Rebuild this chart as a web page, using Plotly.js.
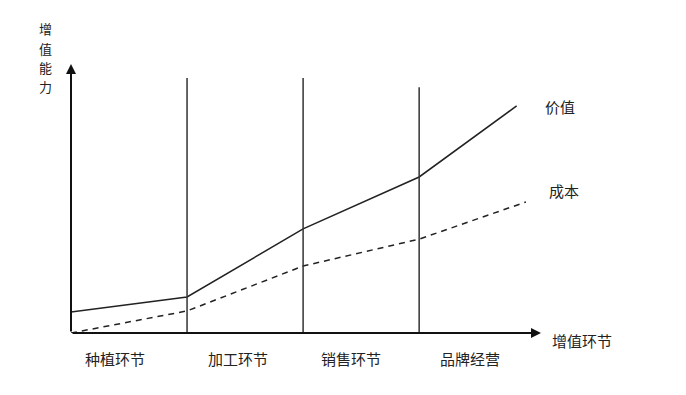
<!DOCTYPE html>
<html><head><meta charset="utf-8">
<script src="https://cdn.plot.ly/plotly-3.0.1.min.js"></script>
<style>html,body{margin:0;padding:0;background:#fff}#c{width:686px;height:395px}</style>
</head><body><div id="c"></div>
<script>
// Data
var valueX = [0, 1, 2, 3, 3.84];
var valueY = [0.78, 1.34, 3.87, 5.80, 8.44];
var costX = [0, 1, 2, 3, 3.92];
var costY = [0, 0.82, 2.49, 3.49, 4.87];
var stageNames = ['种植环节', '加工环节', '销售环节', '品牌经营'];
var stageLabelX = [0.38, 1.44, 2.41, 3.44];
var dividerX = [1, 2, 3];
var dividerTop = [9.48, 9.48, 9.14];
var seriesNames = ['价值', '成本'];
var xTitle = '增值环节';
var yTitle = '增值能力';

var font = "'Noto Sans CJK SC', 'Noto Sans', sans-serif";
var txt = {family: font, size: 15, color: '#222'};
var traces = [
  {x: valueX, y: valueY, mode: 'lines', name: seriesNames[0], line: {color: '#222', width: 1.5}, hoverinfo: 'skip'},
  {x: costX, y: costY, mode: 'lines', name: seriesNames[1], line: {color: '#222', width: 1.5, dash: '6px,5px'}, hoverinfo: 'skip'}
];
var shapes = dividerX.map(function (d, i) {
  return {type: 'line', xref: 'x', yref: 'y', x0: d, x1: d, y0: 0, y1: dividerTop[i], line: {color: '#333', width: 1.5}};
});
var annotations = [];
stageNames.forEach(function (s, i) {
  annotations.push({x: stageLabelX[i], y: 0, xref: 'x', yref: 'y', yshift: -25, text: s, showarrow: false, font: txt});
});
// axes with arrows
annotations.push({x: 4.05, y: 0, ax: 0, ay: 0, xref: 'x', yref: 'y', axref: 'x', ayref: 'y', text: '', showarrow: true, arrowhead: 2, arrowsize: 1, arrowwidth: 2, arrowcolor: '#111', standoff: 0, startstandoff: 0});
annotations.push({x: 0, y: 10, ax: 0, ay: 0, xref: 'x', yref: 'y', axref: 'x', ayref: 'y', text: '', showarrow: true, arrowhead: 2, arrowsize: 1, arrowwidth: 2, arrowcolor: '#111', standoff: 0, startstandoff: 0});
// paper-positioned texts (outside plot range)
annotations.push({x: 479/470, y: -7/269, xref: 'paper', yref: 'paper', xanchor: 'left', yanchor: 'middle', text: xTitle, showarrow: false, font: txt});
var yCenters = [29, 48, 67, 86];
yTitle.split('').forEach(function (ch, i) {
  annotations.push({x: -26/470, y: (333 - yCenters[i]) / 269, xref: 'paper', yref: 'paper', xanchor: 'center', yanchor: 'middle', borderpad: 0, text: ch, showarrow: false, font: {family: font, size: 13, color: '#222'}});
});
annotations.push({x: 472/470, y: (333 - 107)/269, xref: 'paper', yref: 'paper', xanchor: 'left', yanchor: 'middle', text: seriesNames[0], showarrow: false, font: txt});
annotations.push({x: 476/470, y: (333 - 190)/269, xref: 'paper', yref: 'paper', xanchor: 'left', yanchor: 'middle', text: seriesNames[1], showarrow: false, font: txt});

var layout = {
  width: 686, height: 395,
  margin: {l: 71, r: 145, t: 64, b: 62},
  paper_bgcolor: '#fff', plot_bgcolor: '#fff',
  showlegend: false,
  xaxis: {range: [0, 4.05], showgrid: false, zeroline: false, showticklabels: false, ticks: '', showline: false, fixedrange: true},
  yaxis: {range: [0, 10], showgrid: false, zeroline: false, showticklabels: false, ticks: '', showline: false, fixedrange: true},
  shapes: shapes,
  annotations: annotations
};
Plotly.newPlot('c', traces, layout, {staticPlot: true, displayModeBar: false});
</script></body></html>
